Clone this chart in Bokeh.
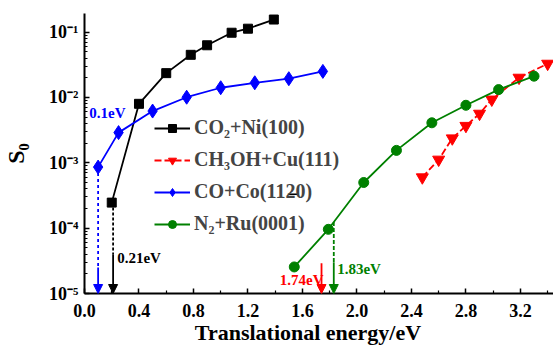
from bokeh.plotting import figure
from bokeh.models import (Range1d, FixedTicker, Arrow, NormalHead, Legend, ColumnDataSource, Label)
from bokeh.core.properties import value
from bokeh.embed import file_html
from bokeh.resources import INLINE

# ---- data ----
co2_x = [0.20, 0.40, 0.60, 0.78, 0.90, 1.08, 1.20, 1.39]
co2_y = [2.46e-4, 8.0e-3, 0.0236, 0.045, 0.063, 0.098, 0.113, 0.156]

ch3oh_x = [2.48, 2.60, 2.70, 2.80, 2.90, 2.99, 3.19, 3.40]
ch3oh_y = [6.0e-4, 1.12e-3, 2.37e-3, 3.68e-3, 5.65e-3, 9.3e-3, 0.0201, 0.0329]

co_x = [0.10, 0.25, 0.50, 0.75, 1.00, 1.25, 1.50, 1.75]
co_y = [8.6e-4, 2.9e-3, 6.2e-3, 0.0101, 0.0141, 0.0168, 0.0194, 0.0251]

n2_x = [1.54, 1.79, 2.05, 2.29, 2.55, 2.80, 3.04, 3.30]
n2_y = [2.55e-5, 9.6e-5, 5.0e-4, 1.55e-3, 4.1e-3, 7.6e-3, 0.0132, 0.0212]

series_labels = ["CO\u2082+Ni(100)", "CH\u2083OH+Cu(111)", "CO+Co(1120)", "N\u2082+Ru(0001)"]
series_colors = ["black", "red", "blue", "green"]

# threshold arrows
arrow_x = [0.10, 0.21, 1.74, 1.83]
arrow_colors = ["blue", "black", "red", "green"]
arrow_dash_top = [8.6e-4, 2.46e-4, None, 1.24e-4]
arrow_dash_bottom = [2.5e-5, 4.0e-5, None, 3.0e-5]
arrow_solid_top = [2.5e-5, 4.0e-5, 2.9e-5, 3.0e-5]
arrow_end = 1e-5
arrow_dash = ["3 3", "3 2", None, "4 2"]

note_text = ["0.1eV", "0.21eV", "1.74eV", "1.83eV"]
note_x = [0.035, 0.24, 1.755, 1.855]
note_y = [5.7e-3, 3.5e-5, 1.6e-5, 2.36e-5]
note_align = ["left", "left", "right", "left"]

x_ticks = [0.0, 0.4, 0.8, 1.2, 1.6, 2.0, 2.4, 2.8, 3.2]
x_minor = [0.2, 0.6, 1.0, 1.4, 1.8, 2.2, 2.6, 3.0, 3.4]
y_ticks = [1e-5, 1e-4, 1e-3, 1e-2, 1e-1]
y_tick_labels = ["10\u207b\u2075", "10\u207b\u2074", "10\u207b\u00b3", "10\u207b\u00b2", "10\u207b\u00b9"]
y_minor = [k * t for t in y_ticks for k in range(2, 10)]

FONT = "Liberation Serif"

p = figure(width=553, height=347, y_axis_type="log",
           x_range=Range1d(0, 3.443), y_range=Range1d(1e-5, 0.193),
           output_backend="svg", toolbar_location=None,
           min_border_left=82, min_border_right=0, min_border_top=13, min_border_bottom=54)
p.grid.visible = False
p.outline_line_color = None
p.background_fill_color = "white"

# axes
for ax in (p.xaxis[0], p.yaxis[0]):
    ax.axis_line_width = 2
    ax.major_tick_in = 5
    ax.major_tick_out = 0
    ax.minor_tick_in = 3
    ax.minor_tick_out = 0
    ax.major_tick_line_width = 1.5
    ax.minor_tick_line_width = 1.2
    ax.major_label_text_font = FONT
    ax.major_label_text_font_style = "bold"
    ax.major_label_text_font_size = "18px"
    ax.major_label_text_color = "black"
    ax.axis_label_text_font = FONT
    ax.axis_label_text_font_style = "bold"
    ax.axis_label_text_color = "black"

p.xaxis.ticker = FixedTicker(ticks=x_ticks, minor_ticks=x_minor)
p.xaxis.major_label_overrides = {t: f"{t:.1f}" for t in x_ticks}
# trailing no-break spaces shift the centred title left, as in the reference
p.xaxis.axis_label = "Translational energy/eV" + "\u00a0" * 4
p.xaxis.axis_label_text_font_size = "22px"
p.xaxis.axis_label_standoff = 0
p.xaxis.major_label_standoff = 10

p.yaxis.ticker = FixedTicker(ticks=y_ticks, minor_ticks=y_minor)
p.yaxis.major_label_overrides = {t: l for t, l in zip(y_ticks, y_tick_labels)}
p.yaxis.axis_label = "S\u2080"
p.yaxis.axis_label_text_font_size = "24px"
p.yaxis.axis_label_standoff = 17
p.yaxis.major_label_standoff = 6

# series
l1 = p.line(co2_x, co2_y, color="black", line_width=1.8)
m1 = p.scatter(co2_x, co2_y, marker="square", size=9, color="black")
l2 = p.line(ch3oh_x, ch3oh_y, color="red", line_width=1.8, line_dash="7 3")
m2 = p.scatter(ch3oh_x, ch3oh_y, marker="inverted_triangle", size=12, color="red")
l3 = p.line(co_x, co_y, color="blue", line_width=1.8)
m3 = p.scatter(co_x, co_y, marker="diamond", size=14, color="blue")
l4 = p.line(n2_x, n2_y, color="green", line_width=1.8)
m4 = p.scatter(n2_x, n2_y, marker="circle", size=10, color="green")

# arrows
for xa, c, dt, db, st, d in zip(arrow_x, arrow_colors, arrow_dash_top, arrow_dash_bottom,
                               arrow_solid_top, arrow_dash):
    if dt is not None:
        p.segment(x0=[xa], y0=[dt], x1=[xa], y1=[db], line_color=c, line_width=1.8, line_dash=d)
    p.add_layout(Arrow(x_start=xa, y_start=st, x_end=xa, y_end=arrow_end,
                       line_color=c, line_width=1.8,
                       end=NormalHead(size=9, fill_color=c, line_color=c)))

src = ColumnDataSource(dict(x=note_x, y=note_y, t=note_text, c=arrow_colors, a=note_align))
p.text(x="x", y="y", text="t", text_color="c", text_align="a", text_baseline="middle",
       text_font=value(FONT), text_font_style="bold", text_font_size="15px", source=src)

legend = Legend(items=[(series_labels[0], [l1, m1]), (series_labels[1], [l2, m2]),
                       (series_labels[2], [l3, m3]), (series_labels[3], [l4, m4])],
                location=(70, 58), padding=0, spacing=9, glyph_width=36, glyph_height=20,
                label_height=20, label_standoff=4,
                label_text_font=FONT, label_text_font_style="bold", label_text_font_size="20px",
                border_line_color=None, background_fill_alpha=0)
p.add_layout(legend)

# macron over the "2" of (1120) in the legend
p.add_layout(Label(x=208.5, y=92, x_units="screen", y_units="screen", text="\u00af",
                   text_align="center", text_baseline="alphabetic", text_font=FONT,
                   text_font_style="bold", text_font_size="20px", text_color="black"))

open("out.html", "w").write(file_html(p, INLINE))
